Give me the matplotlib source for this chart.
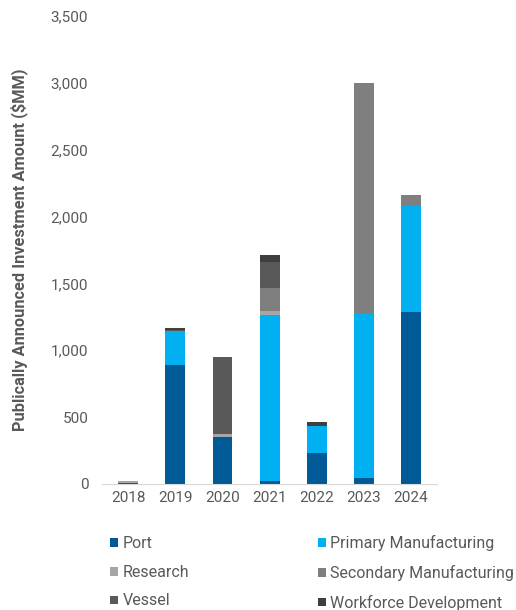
import matplotlib
matplotlib.use("Agg")
import matplotlib.pyplot as plt
import numpy as np

years = ["2018", "2019", "2020", "2021", "2022", "2023", "2024"]
series_names = ["Port", "Primary Manufacturing", "Research",
                "Secondary Manufacturing", "Vessel", "Workforce Development"]
port = [5, 888, 348, 20, 231, 45, 1284]
primary = [0, 256, 0, 1243, 199, 1231, 793]
research = [15, 0, 25, 28, 0, 0, 0]
secondary = [0, 0, 0, 172, 0, 1721, 87]
vessel = [0, 8, 577, 196, 0, 0, 0]
workforce = [0, 12, 0, 50, 35, 0, 0]
yticks = [0, 500, 1000, 1500, 2000, 2500, 3000, 3500]

colors = ["#005A96", "#00B0F0", "#A6A6A6", "#7F7F7F", "#595959", "#3F3F3F"]
data = [port, primary, research, secondary, vessel, workforce]

plt.rcParams['font.family'] = ['Roboto', 'DejaVu Sans']
fig = plt.figure(figsize=(5.16, 6.10), dpi=100)
ax = fig.add_axes([0.198, 0.2066, 0.649, 0.7672])

x = np.arange(len(years))
bottom = np.zeros(len(years))
handles = []
for name, vals, c in zip(series_names, data, colors):
    vals = np.array(vals, dtype=float)
    h = ax.bar(x, vals, bottom=bottom, width=0.42, color=c, label=name)
    handles.append(h)
    bottom += vals

ax.set_xlim(-0.55, 6.55)
ax.set_ylim(0, 3500)
ax.set_yticks(yticks)
ax.set_yticklabels([f"{v:,}" for v in yticks])
ax.set_xticks(x)
ax.set_xticklabels(years)
for s in ["top", "right", "left"]:
    ax.spines[s].set_visible(False)
ax.spines["bottom"].set_color("#D9D9D9")
ax.tick_params(axis="both", length=0, colors="#595959", labelsize=11)
ax.tick_params(axis="y", pad=10)
ax.tick_params(axis="x", pad=5)
ax.set_ylabel("Publically Announced Investment Amount ($MM)", fontsize=11.8,
              fontweight="bold", color="#595959")
ax.yaxis.set_label_coords(-0.22, 0.5)

order = [0, 2, 4, 1, 3, 5]
fig.legend(handles=[handles[i] for i in order],
           labels=[series_names[i] for i in order], ncol=2,
           loc="upper left", bbox_to_anchor=(0.186, 0.146),
           frameon=False, fontsize=11.5, handlelength=0.45, handleheight=0.45,
           handletextpad=0.3, columnspacing=8.1, labelspacing=0.85,
           labelcolor="#595959")

fig.savefig("out.png", dpi=100)
